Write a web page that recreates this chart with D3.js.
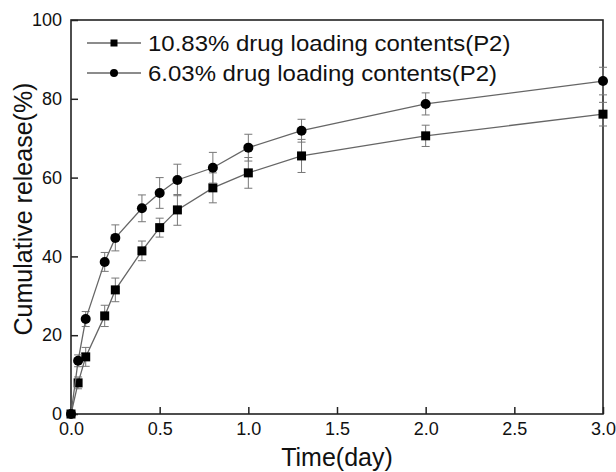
<!DOCTYPE html>
<html>
<head>
<meta charset="utf-8">
<script src="https://cdnjs.cloudflare.com/ajax/libs/d3/7.8.5/d3.min.js"></script>
<style>
  body { margin: 0; background: #fff; }
  text { font-family: "Liberation Sans", Arial, sans-serif; fill: #111; }
</style>
</head>
<body>
<div class="release-viz"></div>
<script>
// time points (day)
const timeDays = [0, 0.04, 0.083, 0.19, 0.25, 0.4, 0.5, 0.6, 0.8, 1.0, 1.3, 2.0, 3.0];

// 10.83% drug loading (squares)
const releaseHigh = [0, 7.9, 14.5, 24.9, 31.5, 41.4, 47.3, 51.8, 57.4, 61.2, 65.5, 70.6, 76.1];
const errorHigh = [0, 1.5, 2.4, 2.7, 3.0, 2.5, 2.4, 3.9, 3.8, 3.9, 4.2, 2.7, 3.0];

// 6.03% drug loading (circles)
const releaseLow = [0, 13.5, 24.1, 38.6, 44.7, 52.2, 56.1, 59.4, 62.5, 67.6, 71.9, 78.7, 84.5];
const errorLow = [0, 1.5, 1.9, 2.4, 3.3, 3.4, 3.9, 4.0, 3.9, 3.4, 2.9, 2.8, 3.5];

const seriesNames = ["10.83% drug loading contents(P2)", "6.03% drug loading contents(P2)"];
const xTicks = [0, 0.5, 1.0, 1.5, 2.0, 2.5, 3.0];
const yTicks = [0, 20, 40, 60, 80, 100];

function drawRelease() {
    const margin = {top: 20, right: 13, bottom: 58, left: 71},
        width = 616 - margin.left - margin.right,
        height = 472 - margin.top - margin.bottom;

    const svg = d3.select(".release-viz")
    .append("svg")
        .attr("width", width + margin.left + margin.right)
        .attr("height", height + margin.top + margin.bottom)
    .append("g")
        .attr("transform", `translate(${margin.left},${margin.top})`);

    const x = d3.scaleLinear().domain([0, 3]).range([0, width]);
    const y = d3.scaleLinear().domain([0, 100]).range([height, 0]);

    // axes with inward ticks
    const xAxis = svg.append("g")
        .attr("transform", `translate(0, ${height})`)
        .call(d3.axisBottom(x).tickValues(xTicks).tickFormat(d3.format(".1f"))
            .tickSizeInner(-7).tickSizeOuter(0).tickPadding(8));
    const yAxis = svg.append("g")
        .call(d3.axisLeft(y).tickValues(yTicks).tickFormat(d3.format("d"))
            .tickSizeInner(-7).tickSizeOuter(0).tickPadding(9));

    [xAxis, yAxis].forEach(ax => {
        ax.select(".domain").remove();
        ax.selectAll(".tick line").attr("stroke", "#222").attr("stroke-width", 1.5);
        ax.selectAll(".tick text").style("font-size", "18px").attr("fill", "#111");
    });

    // frame
    svg.append("rect")
        .attr("width", width)
        .attr("height", height)
        .attr("fill", "none")
        .attr("stroke", "#222")
        .attr("stroke-width", 1.6);

    const series = [
        {name: seriesNames[0], shape: "square", values: releaseHigh, errors: errorHigh},
        {name: seriesNames[1], shape: "circle", values: releaseLow, errors: errorLow}
    ];

    const line = d3.line()
        .x(d => x(d.t))
        .y(d => y(d.v));

    series.forEach(s => {
        const pts = timeDays.map((t, i) => ({t: t, v: s.values[i], e: s.errors[i]}));
        const g = svg.append("g");

        // error bars
        const err = g.selectAll(".err")
            .data(pts.filter(d => d.e > 0))
            .join("g")
            .attr("stroke", "#777")
            .attr("stroke-width", 1);
        err.append("line")
            .attr("x1", d => x(d.t)).attr("x2", d => x(d.t))
            .attr("y1", d => y(d.v + d.e)).attr("y2", d => y(d.v - d.e));
        err.append("line")
            .attr("x1", d => x(d.t) - 4).attr("x2", d => x(d.t) + 4)
            .attr("y1", d => y(d.v + d.e)).attr("y2", d => y(d.v + d.e));
        err.append("line")
            .attr("x1", d => x(d.t) - 4).attr("x2", d => x(d.t) + 4)
            .attr("y1", d => y(d.v - d.e)).attr("y2", d => y(d.v - d.e));

        g.append("path")
            .datum(pts)
            .attr("fill", "none")
            .attr("stroke", "#666")
            .attr("stroke-width", 1.3)
            .attr("d", line);

        if (s.shape === "square") {
            g.selectAll("rect")
                .data(pts)
                .join("rect")
                .attr("x", d => x(d.t) - 4.5)
                .attr("y", d => y(d.v) - 4.5)
                .attr("width", 9)
                .attr("height", 9)
                .attr("fill", "#000");
        } else {
            g.selectAll("circle")
                .data(pts)
                .join("circle")
                .attr("cx", d => x(d.t))
                .attr("cy", d => y(d.v))
                .attr("r", 5)
                .attr("fill", "#000");
        }
    });

    // legend
    const legend = svg.append("g").attr("transform", "translate(16, 23)");
    series.forEach((s, i) => {
        const row = legend.append("g").attr("transform", `translate(0, ${i * 30})`);
        row.append("line")
            .attr("x1", 0).attr("x2", 54)
            .attr("stroke", "#666").attr("stroke-width", 1.3);
        if (s.shape === "square") {
            row.append("rect").attr("x", 23.5).attr("y", -3.5).attr("width", 7).attr("height", 7).attr("fill", "#000");
        } else {
            row.append("circle").attr("cx", 27).attr("r", 4).attr("fill", "#000");
        }
        // text in the source is a bit wider than Arial
        row.append("text")
            .attr("transform", "translate(61, 7.5) scale(1.09, 1)")
            .style("font-size", "22px")
            .text(s.name);
    });

    // axis titles
    svg.append("text")
        .attr("x", width / 2)
        .attr("y", height + 52)
        .style("text-anchor", "middle")
        .style("font-size", "25px")
        .text("Time(day)");

    svg.append("text")
        .attr("transform", "rotate(-90)")
        .attr("x", -189)
        .attr("y", -39)
        .style("text-anchor", "middle")
        .style("font-size", "25px")
        .text("Cumulative release(%)");
}

drawRelease();
</script>
</body>
</html>
